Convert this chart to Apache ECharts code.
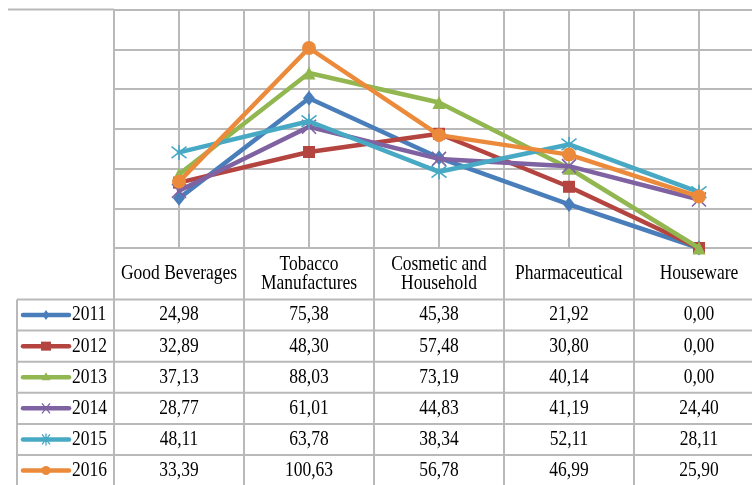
<!DOCTYPE html>
<html>
<head>
<meta charset="utf-8">
<script src="https://cdn.jsdelivr.net/npm/echarts@6/dist/echarts.min.js"></script>
<style>
  html, body { margin: 0; padding: 0; background: #fff; }
  #chart { width: 752px; height: 485px; }
</style>
</head>
<body>
<div id="chart"></div>
<script>
// Sector categories (table header) and yearly series
const categories = ['Good Beverages', 'Tobacco\nManufactures', 'Cosmetic and\nHousehold', 'Pharmaceutical', 'Houseware'];
const years = ['2011', '2012', '2013', '2014', '2015', '2016'];
const v2011 = [24.98, 75.38, 45.38, 21.92, 0.00];
const v2012 = [32.89, 48.30, 57.48, 30.80, 0.00];
const v2013 = [37.13, 88.03, 73.19, 40.14, 0.00];
const v2014 = [28.77, 61.01, 44.83, 41.19, 24.40];
const v2015 = [48.11, 63.78, 38.34, 52.11, 28.11];
const v2016 = [33.39, 100.63, 56.78, 46.99, 25.90];
const yMin = 0, yMax = 120, yStep = 20;

const seriesValues = [v2011, v2012, v2013, v2014, v2015, v2016];
const colors = ['#4A7EBB', '#B4443F', '#92B650', '#7E62A1', '#47A9C3', '#EB8A3B'];
const crossPath = 'path://M0,0L10,10M10,0L0,10';
const starPath = 'path://M0,0L10,10M10,0L0,10M5,-1.5L5,11.5';
const symbols = ['diamond', 'rect', 'triangle', crossPath, starPath, 'circle'];
const symbolSizes = [[12, 15], 12, 13, 14, 15, 14];

const GRID = '#B9B9B9';
const FONT = '17.5px "Liberation Serif", "Times New Roman", serif';
const TEXT_SCALE_Y = 1.18;

const chart = echarts.init(document.getElementById('chart'), null, { renderer: 'canvas' });

const series = seriesValues.map((vals, s) => ({
  name: years[s],
  type: 'line',
  data: vals.map((v, i) => [i, v]),
  symbol: symbols[s],
  symbolSize: symbolSizes[s],
  showAllSymbol: true,
  lineStyle: { color: colors[s], width: 4.5, cap: 'round', join: 'round' },
  itemStyle: (s === 3 || s === 4)
    ? { color: colors[s], borderColor: colors[s], borderWidth: 1.6 }
    : { color: colors[s], borderWidth: 0 },
  emphasis: { disabled: true },
  z: 3 + s
}));

// the plot is wider than the canvas: its last column runs past the right edge
chart.setOption({
  animation: false,
  backgroundColor: '#fff',
  grid: { left: 114, top: 9.5, width: 650, height: 238.5, outerBoundsMode: 'none' },
  xAxis: {
    type: 'value', min: -0.5, max: categories.length - 0.5, interval: 0.5,
    axisLine: { show: false }, axisTick: { show: false }, axisLabel: { show: false },
    splitLine: { show: true, lineStyle: { color: GRID, width: 2 } }
  },
  yAxis: {
    type: 'value', min: yMin, max: yMax, interval: yStep,
    axisLine: { show: false }, axisTick: { show: false }, axisLabel: { show: false },
    splitLine: { show: true, lineStyle: { color: GRID, width: 2 } }
  },
  series: series
});

// ---- data table under the plot ----
const gridBottom = chart.convertToPixel({ yAxisIndex: 0 }, yMin);
const gridTop = chart.convertToPixel({ yAxisIndex: 0 }, yMax);
const colEdges = [];
for (let i = 0; i <= categories.length; i++) {
  colEdges.push(chart.convertToPixel({ xAxisIndex: 0 }, i - 0.5));
}
const colCenters = categories.map((c, i) => chart.convertToPixel({ xAxisIndex: 0 }, i));
const headerBottom = 299.5;
const rowH = 31.1;
const tableBottom = 490;
const legendLeft = 17;
const W = 752;

const g = [];
function hline(x1, x2, y) {
  g.push({ type: 'line', silent: true, shape: { x1, y1: y, x2, y2: y }, style: { stroke: GRID, lineWidth: 2 }, z: 1 });
}
function vline(x, y1, y2) {
  g.push({ type: 'line', silent: true, shape: { x1: x, y1, x2: x, y2 }, style: { stroke: GRID, lineWidth: 2 }, z: 1 });
}
function label(text, x, y, align) {
  g.push({
    type: 'text', silent: true, x, y, scaleY: TEXT_SCALE_Y,
    style: {
      text, font: FONT, fill: '#000',
      align: align || 'center', verticalAlign: 'middle',
      textAlign: align || 'center', textVerticalAlign: 'middle',
      lineHeight: 16
    },
    z: 5
  });
}

// frame line left of the plot top
hline(8, colEdges[0], gridTop);

// header row
colEdges.forEach(x => vline(x, gridBottom, tableBottom));
categories.forEach((c, i) => label(c, colCenters[i], 274));

// body rows
vline(legendLeft, headerBottom, tableBottom);
hline(legendLeft, W, headerBottom);
years.forEach((yr, r) => {
  const top = headerBottom + r * rowH;
  const cy = top + rowH / 2;
  hline(legendLeft, W, top + rowH);
  seriesValues[r].forEach((v, i) => label(v.toFixed(2).replace('.', ','), colCenters[i], cy));
  label(yr, 72, cy, 'left');

  // legend key: line with a small marker
  const col = colors[r];
  g.push({ type: 'line', silent: true, shape: { x1: 23, y1: cy, x2: 69, y2: cy },
    style: { stroke: col, lineWidth: 4.5, lineCap: 'round' }, z: 6 });
  const mx = 46;
  let marker;
  if (r === 0) marker = { type: 'polygon', shape: { points: [[mx, cy - 5], [mx + 3.5, cy], [mx, cy + 5], [mx - 3.5, cy]] }, style: { fill: col } };
  else if (r === 1) marker = { type: 'rect', shape: { x: mx - 5, y: cy - 4.5, width: 10, height: 9 }, style: { fill: col } };
  else if (r === 2) marker = { type: 'polygon', shape: { points: [[mx, cy - 5], [mx + 4.5, cy + 3], [mx - 4.5, cy + 3]] }, style: { fill: col } };
  else if (r === 3) marker = { type: 'polyline', shape: { points: [[mx - 4, cy - 5], [mx + 4, cy + 5], [mx, cy], [mx + 4, cy - 5], [mx - 4, cy + 5]] }, style: { stroke: col, lineWidth: 1.3, fill: null } };
  else if (r === 4) marker = { type: 'polyline', shape: { points: [[mx - 4, cy - 5], [mx + 4, cy + 5], [mx, cy], [mx + 4, cy - 5], [mx - 4, cy + 5], [mx, cy], [mx, cy - 6], [mx, cy + 6]] }, style: { stroke: col, lineWidth: 1.3, fill: null } };
  else marker = { type: 'circle', shape: { cx: mx, cy, r: 4.5 }, style: { fill: col } };
  marker.silent = true;
  marker.z = 7;
  g.push(marker);
});

chart.setOption({ graphic: { elements: g } });
</script>
</body>
</html>
